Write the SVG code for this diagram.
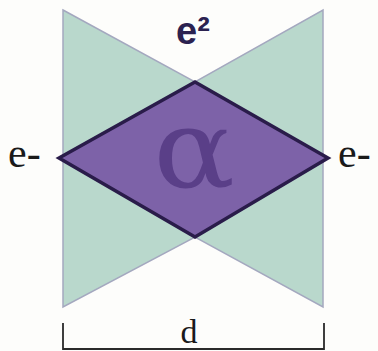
<svg xmlns="http://www.w3.org/2000/svg" width="378" height="351" viewBox="0 0 378 351">
<style>
.lbl{font-family:"Liberation Serif",serif;fill:#1a1a1a}
</style>
<rect width="378" height="351" fill="#fdfdfb"/>
<g id="bowtie">
<polygon points="63,10 195,82 323,10 323,307 195,237 63,307" fill="#b9d8cc" stroke="#a4a8bf" stroke-width="1.5"/>
</g>
<g id="diamond">
<polygon points="59,158 195,82 328,158 195,237" fill="#7d62a8" stroke="#2a1c4a" stroke-width="3.5" stroke-linejoin="miter"/>
<text transform="translate(194,187) scale(1.1,1)" text-anchor="middle" font-family="DejaVu Serif,serif" font-size="110" fill="#5a3f88">α</text>
</g>
<g id="top-label">
<text x="193" y="44" text-anchor="middle" font-family="Liberation Sans,sans-serif" font-weight="bold" font-size="38" fill="#2b2250">e²</text>
</g>
<g id="left-label"><text class="lbl" x="8" y="167" font-size="42">e-</text></g>
<g id="right-label"><text class="lbl" x="338" y="167" font-size="42">e-</text></g>
<g id="dimension">
<path d="M63,323 V349 H324 V323" fill="none" stroke="#2a2a2a" stroke-width="1.8"/>
<text class="lbl" x="189" y="343" text-anchor="middle" font-size="34">d</text>
</g>
</svg>
